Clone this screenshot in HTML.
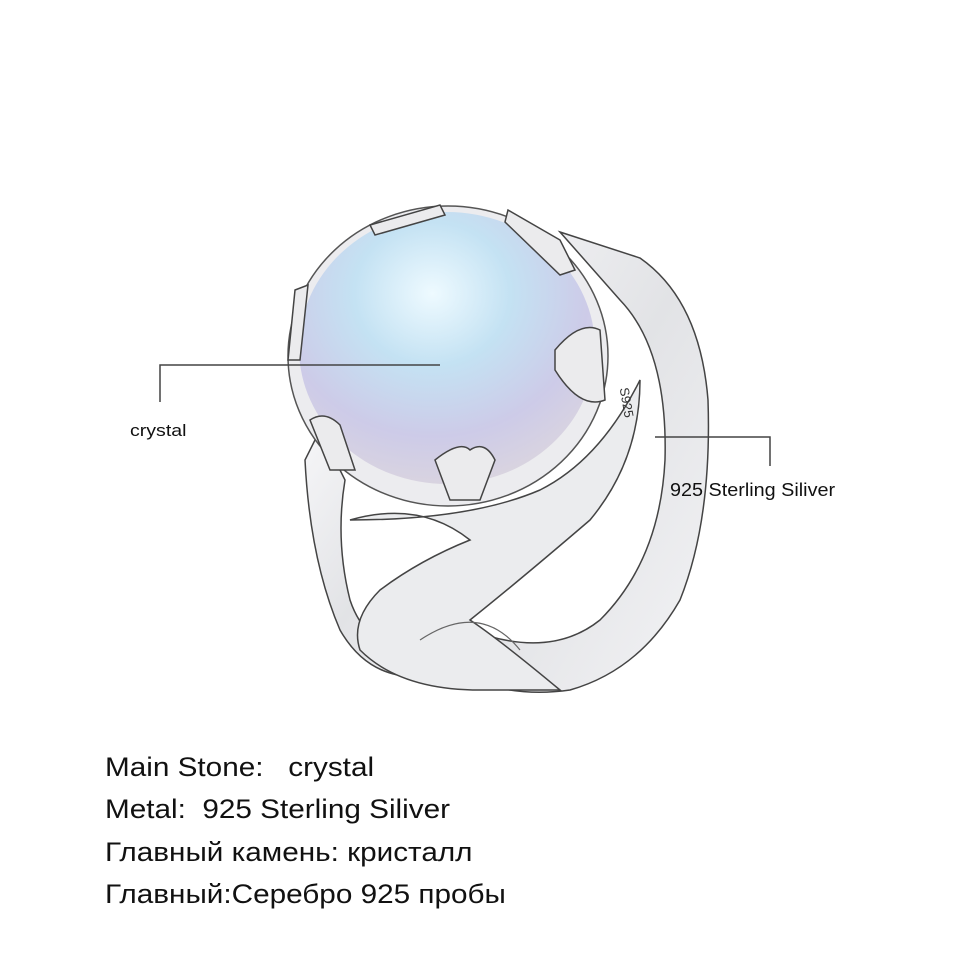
<!DOCTYPE html>
<html><head><meta charset="utf-8"><style>
body{margin:0;background:#fff;width:960px;height:960px;position:relative;overflow:hidden;font-family:"Liberation Sans",sans-serif}
.t{position:absolute;color:#111;font-size:27px;left:105px;white-space:pre;transform:scaleX(1.1);transform-origin:0 0}
</style></head><body>
<svg width="960" height="960" style="position:absolute;left:0;top:0">
<defs>
<radialGradient id="st" cx="0.45" cy="0.3" r="0.75">
<stop offset="0" stop-color="#eefaff"/><stop offset="0.35" stop-color="#c4e2f3"/><stop offset="0.7" stop-color="#cdcbe8"/><stop offset="1" stop-color="#dcd6de"/></radialGradient>
<linearGradient id="sv" x1="0" y1="0" x2="1" y2="1"><stop offset="0" stop-color="#f6f6f8"/><stop offset="0.5" stop-color="#e2e3e6"/><stop offset="1" stop-color="#f3f3f5"/></linearGradient>
</defs>
<path d="M560 232 L640 258 Q700 300 708 400 Q712 520 680 600 Q640 670 570 690 Q500 700 440 665 L470 630 Q550 660 600 620 Q660 560 665 460 Q668 350 620 300 Z" fill="url(#sv)" stroke="#444" stroke-width="1.5"/>
<path d="M320 430 L305 460 Q310 560 340 630 Q380 700 470 665 L440 650 Q370 660 350 600 Q335 540 345 480 Z" fill="url(#sv)" stroke="#444" stroke-width="1.5"/>
<path d="M350 520 Q420 500 470 540 Q420 560 380 590 Q350 620 360 650 Q400 690 480 690 L560 690 Q500 640 470 620 Q520 580 590 520 Q640 460 640 380 Q600 460 540 490 Q470 520 350 520 Z" fill="#ebecee" stroke="#444" stroke-width="1.5"/>
<path d="M420 640 Q480 600 520 650" fill="none" stroke="#666" stroke-width="1.2"/>
<ellipse cx="448" cy="356" rx="160" ry="150" fill="#ececef" stroke="#555" stroke-width="1.5"/>
<ellipse cx="447" cy="348" rx="148" ry="136" fill="url(#st)"/>
<g fill="#ebebed" stroke="#444" stroke-width="1.5">
<path d="M370 225 L440 205 L445 215 L375 235 Z"/>
<path d="M508 210 L560 240 L575 270 L560 275 L505 222 Z"/>
<path d="M295 290 L308 285 L300 360 L288 360 Z"/>
<path d="M555 350 Q580 320 600 330 L605 400 Q580 410 555 370 Z"/>
<path d="M435 460 Q460 440 470 450 Q485 440 495 460 L480 500 L450 500 Z"/>
<path d="M310 420 Q325 410 340 425 L355 470 L330 470 Z"/>
</g>
<text x="625" y="418" font-size="13" fill="#333" transform="rotate(80 640 400)" font-family="Liberation Sans">S925</text>
<polyline points="440,365 160,365 160,402" fill="none" stroke="#444" stroke-width="1.5"/>
<polyline points="655,437 770,437 770,466" fill="none" stroke="#444" stroke-width="1.5"/>
</svg>
<div style="position:absolute;left:130px;top:421px;font-size:17px;color:#111;transform:scaleX(1.15);transform-origin:0 0">crystal</div>
<div style="position:absolute;left:670px;top:480px;font-size:18px;color:#111;transform:scaleX(1.1);transform-origin:0 0">925 Sterling Siliver</div>
<div class="t" style="top:752px">Main Stone:   crystal</div>
<div class="t" style="top:794px">Metal:  925 Sterling Siliver</div>
<div class="t" style="top:837px">Главный камень: кристалл</div>
<div class="t" style="top:879px">Главный:Серебро 925 пробы</div>
</body></html>
